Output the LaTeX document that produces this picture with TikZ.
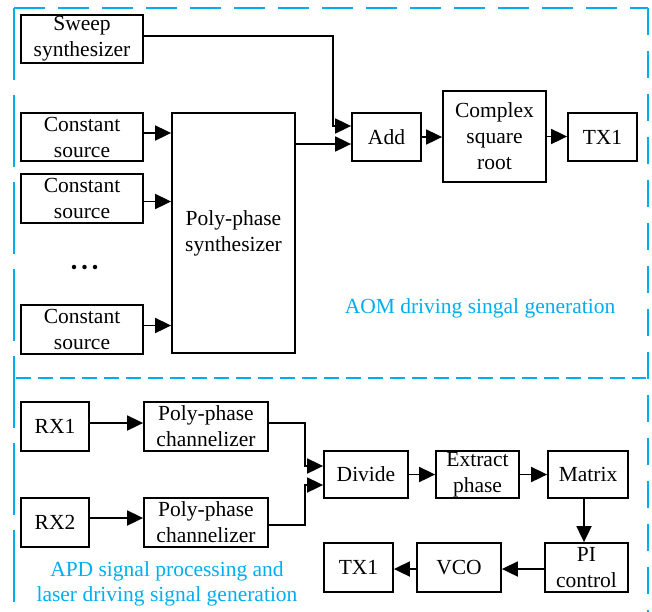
\documentclass[tikz,border=0pt]{standalone}
\usepackage{fontspec}
\setmainfont{Liberation Serif}
\usetikzlibrary{arrows.meta}
\definecolor{frameblue}{RGB}{0,174,239}
\tikzset{
  blk/.style={draw, line width=1.8pt, inner sep=0pt, align=center,
    font=\fontsize{21.5}{26}\selectfont},
  arr/.style={line width=1.8pt, -{Triangle[length=16pt,width=15pt]}},
  note/.style={text=frameblue, align=center, font=\fontsize{21.5}{25}\selectfont},
  frame/.style={draw=frameblue, line width=2pt},
  dot/.style={circle, fill, inner sep=0pt, minimum size=4.5pt},
}
\begin{document}
\begin{tikzpicture}[x=1pt, y=-1pt]
\useasboundingbox (0,0) rectangle (652,611);

% dashed frames around the two sections
\draw[frame, dash pattern=on 31pt off 13pt] (14,8) -- (648,8);
\draw[frame, dash pattern=on 72pt off 15pt] (14,8) -- (14,620);
\draw[frame, dash pattern=on 27pt off 16pt] (648,8) -- (648,620);
\draw[frame, dash pattern=on 15pt off 7pt] (16,378) -- (646,378);

% upper section: AOM driving signal
\node[blk, minimum width=122pt, minimum height=48pt] (sweep) at (82,39) {Sweep\\synthesizer};
\node[blk, minimum width=122pt, minimum height=48pt] (cs1) at (82,137) {Constant\\source};
\node[blk, minimum width=122pt, minimum height=49pt] (cs2) at (82,198.5) {Constant\\source};
\node[dot] (dot1) at (74,267) {};
\node[dot] (dot2) at (84.5,267) {};
\node[dot] (dot3) at (95,267) {};
\node[blk, minimum width=122pt, minimum height=49pt] (cs3) at (82,329.5) {Constant\\source};
\node[blk, minimum width=123pt, minimum height=240pt] (pps) at (233.5,233) {Poly-phase\\synthesizer};
\node[blk, minimum width=69pt, minimum height=48pt] (add) at (386.5,137) {Add};
\node[blk, minimum width=103pt, minimum height=91pt] (csr) at (494.5,136.5) {Complex\\square\\root};
\node[blk, minimum width=69pt, minimum height=48pt] (tx1a) at (602.5,137) {TX1};
\node[note] (aom) at (480,308) {AOM driving singal generation};

\draw[arr] ([yshift=4pt]cs1.east) -- ([yshift=4pt]cs1.east -| pps.west);
\draw[arr] ([yshift=-3pt]cs2.east) -- ([yshift=-3pt]cs2.east -| pps.west);
\draw[arr] ([yshift=4pt]cs3.east) -- ([yshift=4pt]cs3.east -| pps.west);
\draw[arr] ([yshift=3pt]sweep.east) -- ++(189pt,0) |- ([yshift=11pt]add.west);
\draw[arr] ([yshift=-7pt]add.west -| pps.east) -- ([yshift=-7pt]add.west);
\draw[arr] (add.east) -- (add.east -| csr.west);
\draw[arr] (csr.east) -- (csr.east -| tx1a.west);

% lower section: APD signal processing
\node[blk, minimum width=68pt, minimum height=49pt] (rx1) at (55,426.5) {RX1};
\node[blk, minimum width=124pt, minimum height=49pt] (ppc1) at (206,426.5) {Poly-phase\\channelizer};
\node[blk, minimum width=68pt, minimum height=49pt] (rx2) at (55,522.5) {RX2};
\node[blk, minimum width=124pt, minimum height=49pt] (ppc2) at (206,522.5) {Poly-phase\\channelizer};
\node[blk, minimum width=84pt, minimum height=47pt] (div) at (366,474.5) {Divide};
\node[blk, minimum width=83pt, minimum height=47pt] (ext) at (477.5,474.5) {Extract\\phase};
\node[blk, minimum width=80pt, minimum height=47pt] (mat) at (588,474.5) {Matrix};
\node[blk, minimum width=83pt, minimum height=49pt] (pi) at (586.5,567.5) {PI\\control};
\node[blk, minimum width=84pt, minimum height=49pt] (vco) at (459,567.5) {VCO};
\node[blk, minimum width=69pt, minimum height=49pt] (tx1b) at (358.5,567.5) {TX1};
\node[note] (apd) at (167,583.5) {APD signal processing and\\laser driving signal generation};

\draw[arr] ([yshift=3.5pt]rx1.east) -- ([yshift=3.5pt]rx1.east -| ppc1.west);
\draw[arr] ([yshift=4.5pt]rx2.east) -- ([yshift=4.5pt]rx2.east -| ppc2.west);
\draw[arr] ([yshift=3.5pt]ppc1.east) -- ++(36pt,0) |- ([yshift=8.5pt]div.west);
\draw[arr] ([yshift=-2.5pt]ppc2.east) -- ++(36pt,0) |- ([yshift=-10.5pt]div.west);
\draw[arr] (div.east) -- (div.east -| ext.west);
\draw[arr] (ext.east) -- (ext.east -| mat.west);
\draw[arr] ([xshift=-4pt]mat.south) -- ([xshift=-4pt]mat.south |- pi.north);
\draw[arr] ([yshift=-1.5pt]pi.west) -- ([yshift=-1.5pt]pi.west -| vco.east);
\draw[arr] ([yshift=-1.5pt]vco.west) -- ([yshift=-1.5pt]vco.west -| tx1b.east);
\end{tikzpicture}
\end{document}
